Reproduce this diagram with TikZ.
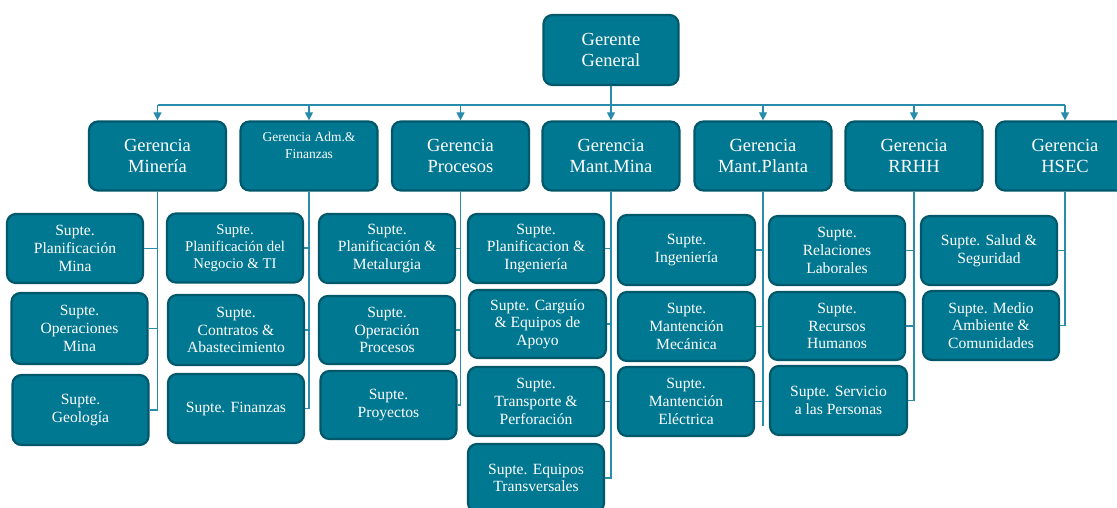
\documentclass[tikz,border=0pt]{standalone}
\usepackage{fontspec}
\setmainfont{Liberation Serif}
\usetikzlibrary{arrows.meta}
\definecolor{boxfill}{RGB}{0,120,145}
\definecolor{boxline}{RGB}{0,88,106}
\definecolor{connc}{RGB}{40,140,170}
\tikzset{
  base/.style={draw=boxline, fill=boxfill, line width=2.2pt, rounded corners=9pt,
    text=white, align=center, inner sep=2pt},
  top/.style={base, minimum width=135pt, minimum height=70pt,
    font=\fontsize{18.5}{21}\selectfont},
  mgr/.style={base, minimum width=137pt, minimum height=69pt,
    font=\fontsize{18.5}{21}\selectfont},
  sub/.style={base, minimum width=136pt, minimum height=69pt,
    font=\fontsize{15.6}{17.6}\selectfont},
  conn/.style={draw=connc, line width=1.1pt},
  arr/.style={conn, -{Triangle[width=8pt,length=8pt]}},
}
\begin{document}
\begin{tikzpicture}[x=1pt,y=-1pt]
\useasboundingbox (0,0) rectangle (1117,508);
\clip (0,0) rectangle (1117,508);
% top
\node[top] (gg) at (611,50) {Gerente\\General};
% managers
\node[mgr] (g1) at (157.5,156) {Gerencia\\Minería};
\node[mgr, minimum height=69pt] (g2) at (309,156) {};
\node[anchor=north, text=white, align=center, font=\fontsize{13.5}{16.5}\selectfont, inner sep=0pt] (g2t) at (309,132) {Gerencia Adm.\&\\Finanzas};
\node[mgr] (g3) at (460.5,156) {Gerencia\\Procesos};
\node[mgr] (g4) at (611,156) {Gerencia\\Mant.Mina};
\node[mgr] (g5) at (763,156) {Gerencia\\Mant.Planta};
\node[mgr] (g6) at (914,156) {Gerencia\\RRHH};
\node[mgr, minimum width=138pt] (g7) at (1065,156) {Gerencia\\HSEC};
% bar and arrows
\coordinate (bar) at (0,105);
\draw[conn] (g1.north |- bar) -- (g7.north |- bar);
\draw[conn] (gg.south) -- (gg.south |- bar);
\foreach \g in {g1,g2,g3,g4,g5,g6,g7}{
  \draw[arr] (\g.north |- bar) -- (\g.north);
}
% Mineria children
\node[sub] (a1) at (75,248.5) {Supte.\\Planificación\\Mina};
\node[sub, minimum height=71pt] (a2) at (79.5,328.5) {Supte.\\Operaciones\\Mina};
\node[sub, minimum height=70pt] (a3) at (80.5,410) {Supte.\\Geología};
% Adm children
\node[sub, font=\fontsize{14.8}{17}\selectfont] (b1) at (235,248) {Supte.\\Planificación del\\Negocio \& TI};
\node[sub, minimum height=70pt] (b2) at (236,330) {Supte.\\Contratos \&\\Abastecimiento};
\node[sub] (b3) at (236,408.5) {Supte. Finanzas};
% Procesos children
\node[sub] (c1) at (387,248.5) {Supte.\\Planificación \&\\Metalurgia};
\node[sub, minimum height=68pt] (c2) at (387,330) {Supte.\\Operación\\Procesos};
\node[sub, minimum height=68pt] (c3) at (388.5,405) {Supte.\\Proyectos};
% Mant.Mina children
\node[sub] (d1) at (536,248.5) {Supte.\\Planificacion \&\\Ingeniería};
\node[sub, minimum width=137pt, minimum height=68pt] (d2) at (537.5,324) {Supte. Carguío\\\& Equipos de\\Apoyo};
\node[sub] (d3) at (536,401.5) {Supte.\\Transporte \&\\Perforación};
\node[sub, minimum height=68pt] (d4) at (536,478) {Supte. Equipos\\Transversales};
% Mant.Planta children
\node[sub, minimum width=137pt, minimum height=70pt] (e1) at (686.5,250) {Supte.\\Ingeniería};
\node[sub, minimum width=137pt] (e2) at (686.5,326.5) {Supte.\\Mantención\\Mecánica};
\node[sub] (e3) at (686,401.5) {Supte.\\Mantención\\Eléctrica};
% RRHH children
\node[sub] (f1) at (837,250.5) {Supte.\\Relaciones\\Laborales};
\node[sub, minimum height=68pt] (f2) at (837,326) {Supte.\\Recursos\\Humanos};
\node[sub, minimum width=137pt] (f3) at (838.5,400.5) {Supte. Servicio\\a las Personas};
% HSEC children
\node[sub] (h1) at (989,250.5) {Supte. Salud \&\\Seguridad};
\node[sub] (h2) at (991,325.5) {Supte. Medio\\Ambiente \&\\Comunidades};
% spines
\draw[conn] (g1.south) |- (a3.east);
\draw[conn] (a1.east) -- (a1.east -| g1.south);
\draw[conn] (a2.east) -- (a2.east -| g1.south);
\draw[conn] (g2.south) |- (b3.east);
\draw[conn] (b1.east) -- (b1.east -| g2.south);
\draw[conn] (b2.east) -- (b2.east -| g2.south);
\draw[conn] (g3.south) |- (c3.east);
\draw[conn] (c1.east) -- (c1.east -| g3.south);
\draw[conn] (c2.east) -- (c2.east -| g3.south);
\draw[conn] (g4.south) |- (d4.east);
\draw[conn] (d1.east) -- (d1.east -| g4.south);
\draw[conn] (d2.east) -- (d2.east -| g4.south);
\draw[conn] (d3.east) -- (d3.east -| g4.south);
\coordinate (e4) at (763,426);
\draw[conn] (g5.south) -- (e4);
\draw[conn] (e1.east) -- (e1.east -| g5.south);
\draw[conn] (e2.east) -- (e2.east -| g5.south);
\draw[conn] (e3.east) -- (e3.east -| g5.south);
\draw[conn] (g6.south) |- (f3.east);
\draw[conn] (f1.east) -- (f1.east -| g6.south);
\draw[conn] (f2.east) -- (f2.east -| g6.south);
\draw[conn] (g7.south) |- (h2.east);
\draw[conn] (h1.east) -- (h1.east -| g7.south);
\end{tikzpicture}
\end{document}
